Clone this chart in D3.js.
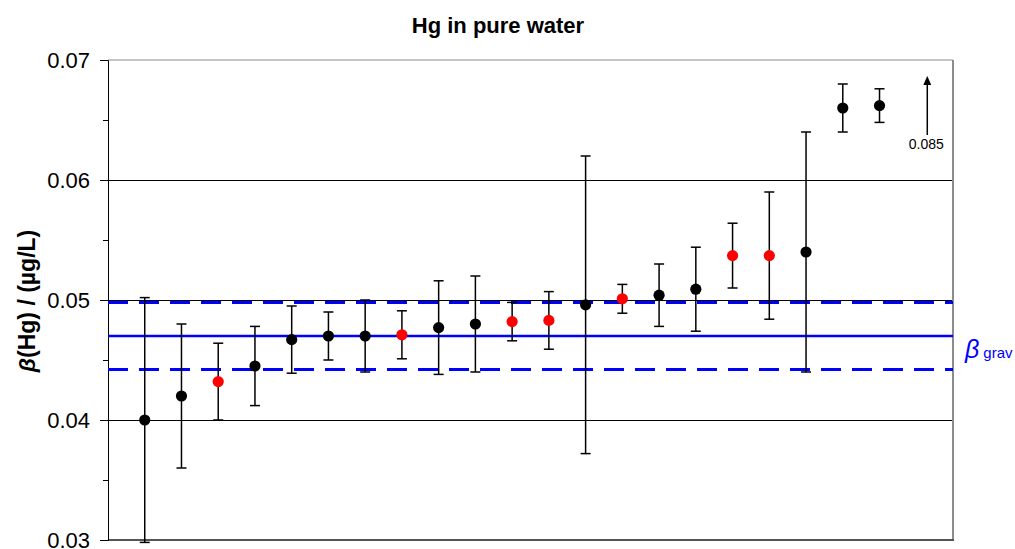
<!DOCTYPE html>
<html>
<head>
<meta charset="utf-8">
<script src="https://cdn.jsdelivr.net/npm/d3@7"></script>
<style>
  body { margin: 0; background: #fff; }
  svg { font-family: Arial, "Liberation Sans", sans-serif; }
  .grid line { stroke: #000; stroke-width: 1; shape-rendering: crispEdges; }
  .ebar { stroke: #000; stroke-width: 1.5; }
</style>
</head>
<body>
<svg id="chart" width="1015" height="549"></svg>
<script>
// measured mass concentrations, participants sorted ascending
var labIndex = [1, 2, 3, 4, 5, 6, 7, 8, 9, 10, 11, 12, 13, 14, 15, 16, 17, 18, 19, 20, 21];
var values = [0.0400, 0.0420, 0.0432, 0.0445, 0.0467, 0.0470, 0.0470, 0.0471, 0.0477, 0.0480, 0.0482,
              0.0483, 0.0496, 0.0501, 0.0504, 0.0509, 0.0537, 0.0537, 0.0540, 0.0660, 0.0662];
var uncert = [0.0102, 0.0060, 0.0032, 0.0033, 0.0028, 0.0020, 0.0030, 0.0020, 0.0039, 0.0040, 0.0016,
              0.0024, 0.0124, 0.0012, 0.0026, 0.0035, 0.0027, 0.0053, 0.0100, 0.0020, 0.0014];
var highlighted = [false, false, true, false, false, false, false, true, false, false, true,
                   true, false, true, false, false, true, true, false, false, false];
// off-scale result shown as an arrow
var outlierPos = 22.3, outlierValue = 0.085;
// gravimetric reference value with its band
var gravValue = 0.0470, gravLow = 0.0442, gravHigh = 0.0498;
var yTicks = [0.03, 0.04, 0.05, 0.06, 0.07];
var yMinor = [0.035, 0.045, 0.055, 0.065];

var svg = d3.select('#chart');
var pLeft = 108, pRight = 953, pTop = 60, pBottom = 540;

var x = d3.scaleLinear().domain([0, 23]).range([pLeft, pRight]);
var y = d3.scaleLinear().domain([0.03, 0.07]).range([pBottom, pTop]);

// gridlines
svg.append('g').attr('class', 'grid').selectAll('line').data([0.04, 0.05, 0.06])
    .enter().append('line')
    .attr('x1', pLeft).attr('x2', pRight)
    .attr('y1', function(d) { return y(d); }).attr('y2', function(d) { return y(d); });

// frame: top and right gray, bottom dark
svg.append('line').attr('x1', pLeft).attr('x2', pRight).attr('y1', pTop).attr('y2', pTop)
    .attr('stroke', '#8c8c8c').attr('stroke-width', 1.2);
svg.append('line').attr('x1', pRight).attr('x2', pRight).attr('y1', pTop).attr('y2', pBottom)
    .attr('stroke', '#8c8c8c').attr('stroke-width', 2);
svg.append('line').attr('x1', pLeft).attr('x2', pRight + 1).attr('y1', pBottom).attr('y2', pBottom)
    .attr('stroke', '#555').attr('stroke-width', 2);

// y axis
var yAxis = svg.append('g').attr('transform', 'translate(' + pLeft + ',0)')
    .call(d3.axisLeft(y).tickValues(yTicks).tickFormat(d3.format('.2f')).tickSize(8).tickPadding(10));
yAxis.select('.domain').attr('stroke', '#000');
yAxis.selectAll('text').attr('font-size', 22).attr('fill', '#000')
    .attr('font-family', 'Arial, "Liberation Sans", sans-serif');
svg.append('g').attr('transform', 'translate(' + pLeft + ',0)')
    .call(d3.axisLeft(y).tickValues(yMinor).tickFormat('').tickSize(5))
    .select('.domain').remove();

// reference lines
[gravLow, gravHigh].forEach(function(v) {
    svg.append('line').attr('x1', pLeft).attr('x2', pRight)
        .attr('y1', y(v)).attr('y2', y(v))
        .attr('stroke', '#0000ff').attr('stroke-width', 3)
        .attr('stroke-dasharray', '20,11');
});
svg.append('line').attr('x1', pLeft).attr('x2', pRight)
    .attr('y1', y(gravValue)).attr('y2', y(gravValue))
    .attr('stroke', '#0000ff').attr('stroke-width', 2.5);

// error bars
var bars = svg.append('g').selectAll('g').data(labIndex).enter().append('g');
bars.append('line').attr('class', 'ebar')
    .attr('x1', function(d) { return x(d); }).attr('x2', function(d) { return x(d); })
    .attr('y1', function(d, i) { return y(values[i] + uncert[i]); })
    .attr('y2', function(d, i) { return y(values[i] - uncert[i]); });
bars.append('line').attr('class', 'ebar')
    .attr('x1', function(d) { return x(d) - 5; }).attr('x2', function(d) { return x(d) + 5; })
    .attr('y1', function(d, i) { return y(values[i] + uncert[i]); })
    .attr('y2', function(d, i) { return y(values[i] + uncert[i]); });
bars.append('line').attr('class', 'ebar')
    .attr('x1', function(d) { return x(d) - 5; }).attr('x2', function(d) { return x(d) + 5; })
    .attr('y1', function(d, i) { return y(values[i] - uncert[i]); })
    .attr('y2', function(d, i) { return y(values[i] - uncert[i]); });
bars.append('circle')
    .attr('cx', function(d) { return x(d); })
    .attr('cy', function(d, i) { return y(values[i]); })
    .attr('r', 5.6)
    .attr('fill', function(d, i) { return highlighted[i] ? '#ff0000' : '#000'; });

// outlier arrow
var ax = x(outlierPos);
svg.append('line').attr('x1', ax).attr('x2', ax).attr('y1', 135).attr('y2', 84)
    .attr('stroke', '#000').attr('stroke-width', 1.5);
svg.append('path').attr('d', 'M' + ax + ',76 L' + (ax - 4) + ',85 L' + (ax + 4) + ',85 Z').attr('fill', '#000');
svg.append('text').attr('x', ax - 1).attr('y', 149).attr('text-anchor', 'middle')
    .attr('font-size', 14).text(d3.format('.3f')(outlierValue));

// beta grav label
var lbl = svg.append('text').attr('x', 965).attr('y', y(gravValue) + 22).attr('fill', '#0000ff');
lbl.append('tspan').attr('font-style', 'italic').attr('font-size', 25).text('β');
lbl.append('tspan').attr('font-size', 15).attr('dx', 4).text('grav');

// title
svg.append('text').attr('x', 498).attr('y', 33).attr('text-anchor', 'middle')
    .attr('font-weight', 'bold').attr('font-size', 22).text('Hg in pure water');

// y axis title
var yt = svg.append('text').attr('transform', 'translate(35,301) rotate(-90)')
    .attr('text-anchor', 'middle').attr('font-weight', 'bold').attr('font-size', 23);
yt.append('tspan').attr('font-style', 'italic').text('β');
yt.append('tspan').text('(Hg) / (µg/L)');
</script>
</body>
</html>
